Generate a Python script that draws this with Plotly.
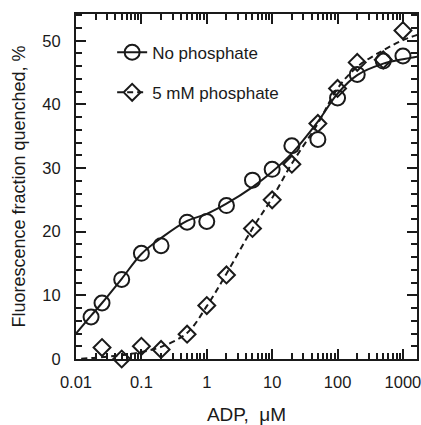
import plotly.graph_objects as go

# Data
circ_x = [0.017, 0.025, 0.05, 0.1, 0.2, 0.5, 1, 2, 5, 10, 20, 50, 100, 200, 500, 1000]
circ_y = [6.6, 8.8, 12.5, 16.6, 17.8, 21.5, 21.6, 24.1, 28.1, 29.8, 33.5, 34.5, 41.0, 44.7, 46.8, 47.6]

dia_x = [0.025, 0.05, 0.1, 0.2, 0.5, 1, 2, 5, 10, 20, 50, 100, 200, 500, 1000]
dia_y = [1.8, 0.0, 2.0, 1.5, 3.9, 8.4, 13.2, 20.5, 25.0, 30.6, 37.0, 42.5, 46.6, 47.0, 51.6]

# Fitted curves
fit1_x = [0.01, 0.017, 0.025, 0.05, 0.1, 0.2, 0.5, 1, 2, 5, 10, 20, 50, 100, 200, 500, 1000, 1650]
fit1_y = [4.0, 6.8, 8.8, 12.6, 16.5, 19.0, 21.7, 22.8, 24.4, 27.0, 29.4, 32.3, 37.3, 41.7, 44.6, 46.4, 47.1, 47.5]

fit2_x = [0.012, 0.02, 0.05, 0.1, 0.2, 0.5, 1, 2, 5, 10, 20, 50, 100, 200, 500, 1000, 1650]
fit2_y = [0.05, 0.2, 0.6, 1.1, 1.9, 4.1, 8.3, 13.4, 20.5, 25.3, 30.7, 37.0, 42.5, 45.9, 48.5, 50.1, 50.9]

x_tick_vals = [0.01, 0.1, 1, 10, 100, 1000]
x_tick_text = ["0.01", "0.1", "1", "10", "100", "1000"]
y_tick_vals = [0, 10, 20, 30, 40, 50]
y_minor_vals = [2, 4, 6, 8, 12, 14, 16, 18, 22, 24, 26, 28, 32, 34, 36, 38, 42, 44, 46, 48, 52, 54]
x_minor_vals = [m * 10 ** e for e in range(-2, 4) for m in range(2, 10)]
series_names = ["No phosphate", "5 mM phosphate"]

X_RANGE = [-2, 3.215]
Y_RANGE = [0, 54.2]

FONT = "Liberation Sans, Arial, sans-serif"
INK = "#1a1a1a"

fig = go.Figure()

# curves
fig.add_trace(go.Scatter(x=fit1_x, y=fit1_y, mode="lines",
                         line=dict(color=INK, width=2, shape="spline", smoothing=1.0),
                         showlegend=False, hoverinfo="skip"))
fig.add_trace(go.Scatter(x=fit2_x, y=fit2_y, mode="lines",
                         line=dict(color=INK, width=2, dash="6px,4px", shape="spline", smoothing=1.0),
                         showlegend=False, hoverinfo="skip"))
# markers
fig.add_trace(go.Scatter(x=circ_x, y=circ_y, mode="markers", cliponaxis=False,
                         marker=dict(symbol="circle-open", size=15, color=INK, line=dict(width=2, color=INK)),
                         showlegend=False))
fig.add_trace(go.Scatter(x=dia_x, y=dia_y, mode="markers", cliponaxis=False,
                         marker=dict(symbol="diamond-open", size=13, color=INK, line=dict(width=2, color=INK)),
                         showlegend=False))
# legend entries
fig.add_trace(go.Scatter(x=[None], y=[None], mode="lines+markers", name=series_names[0], legendgroup="a",
                         line=dict(color=INK, width=2),
                         marker=dict(symbol="circle-open", size=15, color=INK, line=dict(width=2, color=INK))))
fig.add_trace(go.Scatter(x=[None], y=[None], mode="lines+markers", name=series_names[1], legendgroup="b",
                         line=dict(color=INK, width=2, dash="6px,4px"),
                         marker=dict(symbol="diamond-open", size=13, color=INK, line=dict(width=2, color=INK))))
# dummy trace to activate the overlay axes (major ticks + labels)
fig.add_trace(go.Scatter(x=[None], y=[None], xaxis="x2", yaxis="y2", showlegend=False, hoverinfo="skip"))

base = dict(showline=True, linewidth=2, linecolor=INK, mirror="allticks", ticks="inside",
            tickwidth=2, tickcolor=INK, showgrid=False, zeroline=False, automargin=False,
            ticklabeloverflow="allow",
            tickfont=dict(family=FONT, size=16.5, color=INK))

fig.update_layout(
    width=421, height=425,
    margin=dict(l=76, r=4, t=14, b=66),
    paper_bgcolor="white", plot_bgcolor="white",
    # minor ticks on the primary axes
    xaxis=dict(type="log", range=X_RANGE, tickmode="array", tickvals=x_minor_vals, ticklen=6,
               showticklabels=False,
               title=dict(text="ADP,  \u03bcM", font=dict(family=FONT, size=19, color=INK), standoff=55),
               **base),
    yaxis=dict(range=Y_RANGE, tickmode="array", tickvals=y_minor_vals, ticklen=6,
               showticklabels=False,
               title=dict(text="Fluorescence fraction quenched, %", font=dict(family=FONT, size=18, color=INK),
                          standoff=44),
               **base),
    # major ticks with labels
    xaxis2=dict(type="log", range=X_RANGE, overlaying="x", side="bottom", anchor="y2",
                tickmode="array", tickvals=x_tick_vals, ticktext=x_tick_text, ticklen=10,
                ticklabelstandoff=7, **base),
    yaxis2=dict(range=Y_RANGE, overlaying="y", side="left", anchor="x2",
                tickmode="array", tickvals=y_tick_vals, ticklen=10,
                ticklabelstandoff=10, **base),
    legend=dict(x=0.106, y=0.94, xanchor="left", yanchor="top", bgcolor="rgba(0,0,0,0)",
                font=dict(family=FONT, size=17, color=INK), tracegroupgap=15, traceorder="grouped"),
)

fig.write_html("out.html", config={"displayModeBar": False, "staticPlot": True},
               post_script="document.body.style.margin='0';document.body.style.overflow='hidden';")
